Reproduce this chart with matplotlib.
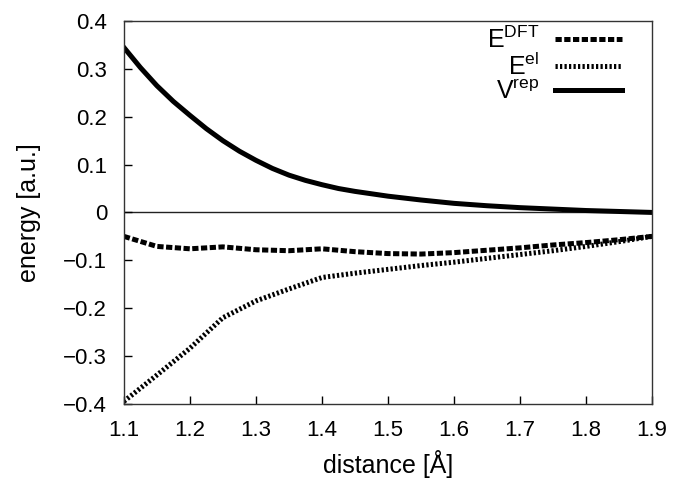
import matplotlib.pyplot as plt

plt.rcParams['font.family'] = ['Liberation Sans', 'DejaVu Sans']
plt.rcParams['mathtext.fontset'] = 'custom'
plt.rcParams['mathtext.rm'] = 'Liberation Sans'

# distance in Angstrom
dist = [1.10, 1.15, 1.20, 1.25, 1.30, 1.35, 1.40, 1.45, 1.50,
        1.55, 1.60, 1.65, 1.70, 1.75, 1.80, 1.85, 1.90]

e_dft = [-0.050, -0.071, -0.076, -0.072, -0.078, -0.080, -0.076, -0.082, -0.086,
         -0.087, -0.084, -0.079, -0.074, -0.068, -0.063, -0.057, -0.050]

e_el = [-0.395, -0.340, -0.284, -0.220, -0.185, -0.160, -0.136, -0.127, -0.119,
        -0.111, -0.104, -0.096, -0.088, -0.080, -0.071, -0.061, -0.050]

# repulsive potential, read on a finer grid
dist_rep = [1.100, 1.125, 1.150, 1.175, 1.200, 1.225, 1.250, 1.275, 1.300,
            1.325, 1.350, 1.375, 1.400, 1.425, 1.450, 1.475, 1.500,
            1.550, 1.600, 1.650, 1.700, 1.750, 1.800, 1.850, 1.900]
v_rep = [0.345, 0.303, 0.265, 0.232, 0.203, 0.175, 0.150, 0.128, 0.109,
         0.092, 0.078, 0.067, 0.058, 0.050, 0.044, 0.039, 0.034,
         0.026, 0.019, 0.014, 0.010, 0.007, 0.004, 0.002, 0.000]

fig = plt.figure(figsize=(6.73, 4.79), dpi=100)
ax = fig.add_axes([0.184, 0.157, 0.785, 0.799])

ax.axhline(0, color='#222222', lw=1.0, zorder=1)
ax.plot(dist, e_dft, color='black', lw=3.6, dashes=(1.25, 0.5),
        label=r'$\mathregular{E^{DFT}}$')
ax.plot(dist, e_el, color='black', lw=3.6, dashes=(0.45, 0.45),
        label=r'$\mathregular{E^{el}}$')
ax.plot(dist_rep, v_rep, color='black', lw=3.6, label=r'$\mathregular{V^{rep}}$')

ax.set_xlim(1.1, 1.9)
ax.set_ylim(-0.4, 0.4)
ax.set_xticks([1.1, 1.2, 1.3, 1.4, 1.5, 1.6, 1.7, 1.8, 1.9])
ax.set_yticks([-0.4, -0.3, -0.2, -0.1, 0, 0.1, 0.2, 0.3, 0.4])
ax.set_yticklabels(['\u22120.4', '\u22120.3', '\u22120.2', '\u22120.1', '0',
                    '0.1', '0.2', '0.3', '0.4'])
ax.set_xticklabels(['1.1', '1.2', '1.3', '1.4', '1.5', '1.6', '1.7', '1.8', '1.9'])
ax.tick_params(direction='in', length=6, width=1, labelsize=16)
ax.tick_params(axis='x', pad=12)
ax.tick_params(axis='y', pad=12)

for s in ax.spines.values():
    s.set_linewidth(1.0)
    s.set_color('#333333')

ax.set_xlabel('distance [Å]', fontsize=18, labelpad=6)
ax.set_ylabel('energy [a.u.]', fontsize=18, labelpad=16)

leg = ax.legend(loc='upper right', bbox_to_anchor=(0.943, 0.986), frameon=False,
                markerfirst=False, fontsize=18, handlelength=2.7,
                handletextpad=0.6, labelspacing=0.0, borderpad=0.0,
                borderaxespad=0.0)
for t in leg.get_texts():
    t.set_ha('right')

fig.savefig('out.png', dpi=100)
